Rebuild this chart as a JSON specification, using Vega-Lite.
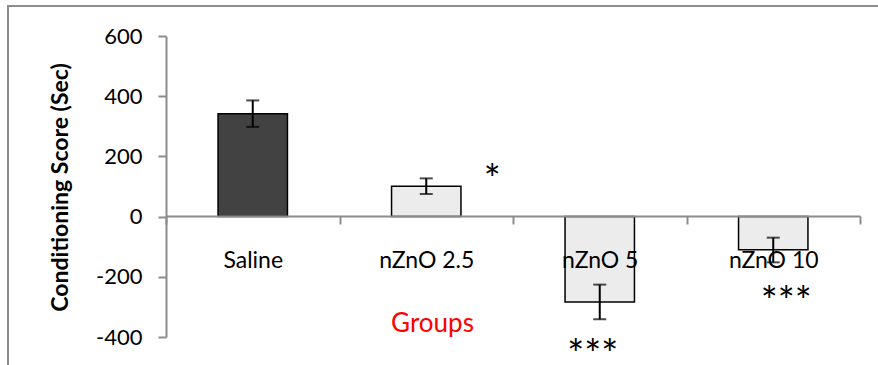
{
  "$schema": "https://vega.github.io/schema/vega-lite/v6.json",
  "autosize": {"type": "none"},
  "width": 890,
  "height": 379,
  "padding": {"left": 8, "top": 6, "right": -20, "bottom": -20},
  "background": "white",
  "config": {
    "font": "Lato",
    "view": {"stroke": "#8c8c8c", "strokeWidth": 2}
  },
  "datasets": {
    "bars": [
      {"group": "Saline", "mean": 342, "lo": 298, "hi": 386},
      {"group": "nZnO 2.5", "mean": 101, "lo": 75, "hi": 127},
      {"group": "nZnO 5", "mean": -284, "lo": -341, "hi": -226},
      {"group": "nZnO 10", "mean": -110, "lo": -152, "hi": -70}
    ],
    "sig": [
      {"group": "nZnO 2.5", "sig": "*", "pos": 76},
      {"group": "nZnO 5", "sig": "***", "pos": -505},
      {"group": "nZnO 10", "sig": "***", "pos": -331}
    ]
  },
  "data": {"name": "bars"},
  "encoding": {
    "x": {
      "field": "group",
      "type": "nominal",
      "sort": ["Saline", "nZnO 2.5", "nZnO 5", "nZnO 10"],
      "scale": {"range": [158, 852], "paddingInner": 0, "paddingOuter": 0},
      "axis": {
        "title": "Groups",
        "titleColor": "#ff0000",
        "titleFont": "Lato",
        "titleFontSize": 26,
        "titleFontWeight": "normal",
        "titleX": 424,
        "titleY": 107,
        "titleAlign": "center",
        "titleBaseline": "middle",
        "offset": -169,
        "domainColor": "#8c8c8c",
        "domainWidth": 2,
        "tickColor": "#8c8c8c",
        "tickWidth": 2,
        "tickSize": 8,
        "tickBand": "extent",
        "labelAngle": 0,
        "labelFontSize": 23,
        "labelColor": "black",
        "labelBaseline": "alphabetic",
        "labelPadding": 43,
        "zindex": 1
      }
    }
  },
  "layer": [
    {
      "mark": {"type": "bar", "width": {"band": 0.4}, "stroke": "black", "strokeWidth": 1.5},
      "encoding": {
        "y": {
          "field": "mean",
          "type": "quantitative",
          "scale": {"domain": [-400, 600], "range": [331, 30], "nice": false, "zero": false},
          "axis": {
            "title": "Conditioning Score (Sec)",
            "titleFontSize": 23,
            "titleFontWeight": "bold",
            "titleColor": "black",
            "titleAngle": -90,
            "titleAlign": "center",
            "titleBaseline": "middle",
            "titleX": -106,
            "titleY": 181,
            "offset": -158,
            "values": [-400, -200, 0, 200, 400, 600],
            "labelExpr": "toString(datum.value)",
            "grid": false,
            "domainColor": "#8c8c8c",
            "domainWidth": 2,
            "tickColor": "#8c8c8c",
            "tickWidth": 2,
            "tickSize": 8,
            "labelFontSize": 22,
            "labelColor": "black",
            "labelPadding": 16
          }
        },
        "color": {
          "field": "group",
          "type": "nominal",
          "scale": {"domain": ["Saline", "nZnO 2.5", "nZnO 5", "nZnO 10"], "range": ["#424242", "#ececec", "#ececec", "#ececec"]},
          "legend": null
        }
      }
    },
    {
      "mark": {"type": "rule", "color": "black", "strokeWidth": 2},
      "encoding": {
        "y": {"field": "lo", "type": "quantitative"},
        "y2": {"field": "hi"}
      }
    },
    {
      "mark": {"type": "tick", "orient": "horizontal", "color": "black", "size": 13, "thickness": 2},
      "encoding": {"y": {"field": "lo", "type": "quantitative"}}
    },
    {
      "mark": {"type": "tick", "orient": "horizontal", "color": "black", "size": 13, "thickness": 2},
      "encoding": {"y": {"field": "hi", "type": "quantitative"}}
    },
    {
      "data": {"name": "sig"},
      "transform": [{"filter": "datum.group == 'nZnO 2.5'"}],
      "mark": {"type": "text", "fontSize": 40, "dx": 66, "baseline": "alphabetic", "color": "black"},
      "encoding": {"y": {"field": "pos", "type": "quantitative"}, "text": {"field": "sig"}}
    },
    {
      "data": {"name": "sig"},
      "transform": [{"filter": "datum.group == 'nZnO 5'"}],
      "mark": {"type": "text", "fontSize": 40, "dx": -7, "baseline": "alphabetic", "color": "black"},
      "encoding": {"y": {"field": "pos", "type": "quantitative"}, "text": {"field": "sig"}}
    },
    {
      "data": {"name": "sig"},
      "transform": [{"filter": "datum.group == 'nZnO 10'"}],
      "mark": {"type": "text", "fontSize": 40, "dx": 13, "baseline": "alphabetic", "color": "black"},
      "encoding": {"y": {"field": "pos", "type": "quantitative"}, "text": {"field": "sig"}}
    }
  ]
}
